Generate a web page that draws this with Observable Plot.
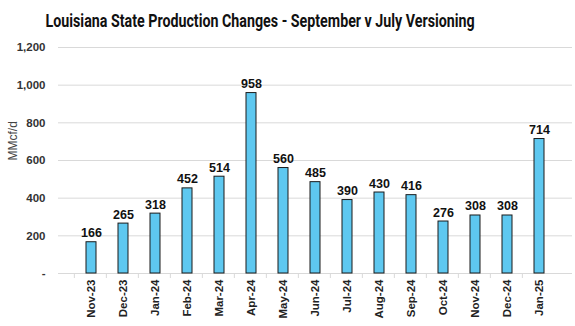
<!DOCTYPE html>
<html><head><meta charset="utf-8">
<script src="https://cdn.jsdelivr.net/npm/d3@7"></script>
<script src="https://cdn.jsdelivr.net/npm/@observablehq/plot@0.6"></script>
<style>
body{margin:0;background:#fff;font-family:"Roboto",sans-serif;}
#title{height:35px;width:575px;text-align:center;white-space:nowrap;padding-right:55px;box-sizing:border-box}
#title span{display:inline-block;font-weight:bold;font-size:19px;color:#111;transform:scaleX(0.75);transform-origin:center;margin-top:9px;margin-left:-100px;margin-right:-100px}
</style></head><body>
<div id="title"><span>Louisiana State Production Changes - September v July Versioning</span></div>
<div id="chart"></div>
<script>
const months = ["Nov-23","Dec-23","Jan-24","Feb-24","Mar-24","Apr-24","May-24","Jun-24","Jul-24","Aug-24","Sep-24","Oct-24","Nov-24","Dec-24","Jan-25"];
const values = [166,265,318,452,514,958,560,485,390,430,416,276,308,308,714];
const yTicks = [0,200,400,600,800,1000,1200];
const data = months.map((m,i)=>({month:m, value:values[i]}));
const W = 575, H = 291, ML = 58, MR = 3;
const step = (W-ML-MR)/months.length;
const chart = Plot.plot({
  width: W, height: H,
  marginLeft: ML, marginRight: MR, marginTop: 12, marginBottom: 53,
  style:{fontFamily:'"Liberation Sans", Arial, sans-serif', fontSize:"11px", color:"#222"},
  x:{domain:months, padding:0.68, label:null},
  y:{domain:[0,1200], label:null},
  marks:[
    Plot.gridY(yTicks,{stroke:"#d9d9d9", strokeOpacity:1}),
    Plot.ruleY([0],{stroke:"#d9d9d9"}),
    Plot.axisY(yTicks,{tickSize:0, tickPadding:13, fontWeight:"bold", fill:"#333", fontSize:11.5, label:null, tickFormat:d=>d===0?"-":d3.format(",")(d)}),
    Plot.axisX({tickSize:5, stroke:"#d9d9d9", tickFormat:null, dx:-step/2, label:null}),
    Plot.axisX({tickSize:0, tickPadding:6, tickRotate:-90, fontWeight:"bold", fill:"#222", fontSize:11.5, label:null}),
    Plot.barY(data,{x:"month", y:"value", fill:"#5EC8F0", stroke:"#1a1a1a", strokeWidth:1}),
    Plot.text(data,{x:"month", y:"value", text:d=>String(d.value), dy:-9, fontWeight:"bold", fontSize:12.5, fill:"#111"}),
    Plot.text(["MMcf/d"],{frameAnchor:"left", text:d=>d, rotate:-90, dx:-45, fontSize:12, fill:"#444"})
  ]
});
document.getElementById("chart").appendChild(chart);
</script>
</body></html>
